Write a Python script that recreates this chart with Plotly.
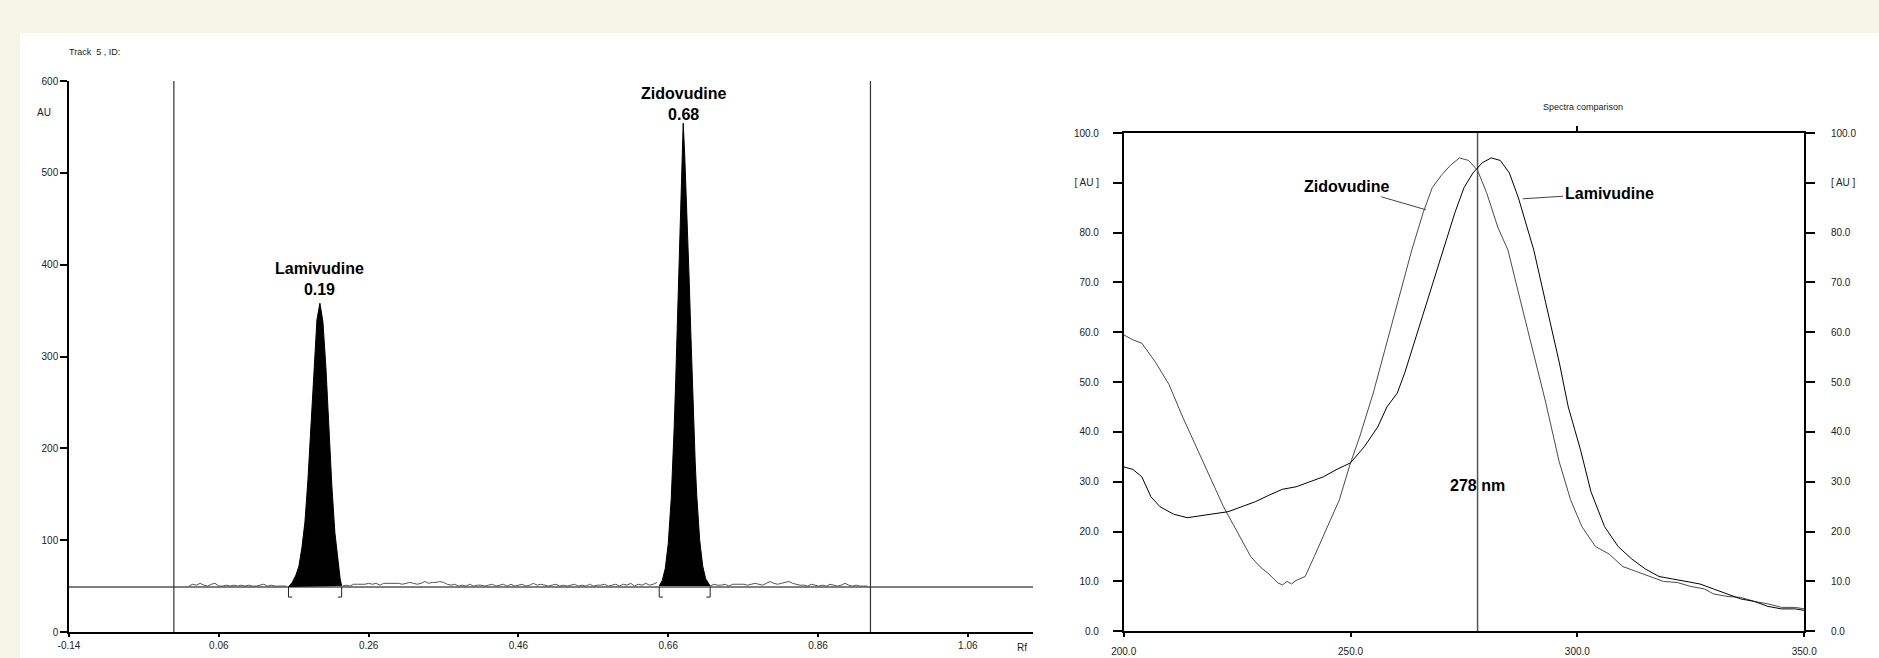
import plotly.graph_objects as go

W, H = 1879, 658

# ---------------- Chromatogram (left) ----------------
rf_ticks = [-0.14, 0.06, 0.26, 0.46, 0.66, 0.86, 1.06]
au_ticks = [0, 100, 200, 300, 400, 500, 600]
baseline_au = 49
front_lines_rf = [0.0, 0.93]

peak_names = ["Lamivudine", "Zidovudine"]
peak_rf_labels = [0.19, 0.68]
peak_apex_rf = [0.195, 0.680]
peak_apex_au = [358, 554]
peak_start = [0.153, 0.648]
peak_end = [0.224, 0.716]

lam_rf = [0.153, 0.158, 0.163, 0.167, 0.171, 0.175, 0.179, 0.183, 0.187, 0.191, 0.195,
          0.199, 0.203, 0.207, 0.211, 0.215, 0.219, 0.222, 0.224]
lam_au = [49, 54, 62, 72, 92, 120, 166, 228, 290, 340, 358,
          338, 288, 222, 158, 108, 75, 58, 50]

zid_rf = [0.648, 0.652, 0.656, 0.660, 0.664, 0.666, 0.668, 0.670, 0.672, 0.674, 0.676, 0.678,
          0.680, 0.682, 0.684, 0.686, 0.688, 0.690, 0.692, 0.694, 0.696, 0.698, 0.702, 0.706,
          0.710, 0.716]
zid_au = [50, 56, 69, 96, 145, 181, 224, 274, 327, 383, 437, 490,
          554, 520, 480, 437, 383, 330, 278, 228, 185, 150, 100, 72,
          58, 50]

# baseline noise segments (start Rf, readings every 0.005 Rf)
noise1_start = 0.020
noise1_au = [50, 52, 51, 53, 51, 50, 52, 53, 50, 50, 51, 50, 51, 50, 51, 50, 51, 50, 50,
             51, 52, 50, 51, 50, 50, 50, 50]
noise2_start = 0.225
noise2_au = [50, 51, 50, 52, 52, 52, 52, 53, 52, 53, 51, 53, 53, 53, 53, 53, 52, 53, 54, 53,
             52, 53, 55, 53, 54, 54, 55, 54, 52, 51, 52, 50, 51, 50, 52, 50, 51, 51, 50, 51,
             52, 50, 51, 52, 50, 52, 50, 51, 52, 50, 51, 53, 51, 52, 51, 50, 51, 52, 50, 51,
             50, 51, 52, 50, 51, 50, 52, 50, 51, 51, 52, 50, 51, 52, 50, 52, 51, 53, 50, 52,
             51, 53, 51, 52, 54]
noise3_start = 0.716
noise3_au = [50, 52, 51, 51, 52, 50, 52, 52, 52, 52, 51, 52, 53, 52, 51, 53, 55, 53, 52, 53,
             54, 55, 53, 52, 51, 51, 50, 52, 51, 50, 51, 50, 52, 51, 50, 51, 53, 51, 50, 51,
             50, 50, 50]

# ---------------- Spectra (right) ----------------
nm_ticks = [200, 250, 300, 350]
spec_ticks = [0, 10, 20, 30, 40, 50, 60, 70, 80, 90, 100]
marker_nm = 278

zid_nm = [200, 202, 204, 207, 210, 213, 216, 219, 222, 225, 228, 230, 232, 234, 235, 236, 237,
          238, 240, 242, 245, 247.5, 250, 252, 255, 258, 261, 263.5, 266, 268, 270, 272, 274,
          276, 278, 280, 282.5, 284.7, 287, 290, 293, 296, 298.5, 301, 304, 307, 310, 313, 316,
          319, 322, 325, 328, 330, 333, 336, 339, 342, 345, 348, 350]
zid_spec = [59.5, 58.5, 57.8, 54, 49.5, 43, 37, 31, 25, 20, 15, 13, 11.5, 9.7, 9.3, 10, 9.5,
            10.2, 11, 15, 21, 26.3, 33.8, 39, 47.8, 57.8, 67.8, 76.5, 84, 89, 91.5, 93.5, 95,
            94.5, 92.5, 88, 81, 76.5, 68, 57, 46, 34, 26.4, 21, 17, 15.5, 13, 12, 11,
            10, 9.8, 9, 8.5, 7.5, 7, 6.8, 6, 5.5, 4.8, 4.8, 4.5]

lam_nm = [200, 202, 204, 206, 208, 211, 214, 217, 220, 223, 226, 229, 232, 235, 238, 241, 244,
          247, 250, 253, 256, 258, 260.3, 262, 264, 265.8, 267.6, 270.5, 273, 275, 277, 279,
          281, 283, 285, 287, 290.4, 293, 296, 298, 300.7, 303, 306, 309, 312, 315, 318, 321,
          324, 327, 330, 333, 336, 339, 342, 345, 348, 350]
lam_spec = [33, 32.5, 31, 27, 25, 23.5, 22.8, 23.2, 23.5, 24, 25, 26, 27.3, 28.5, 29, 30, 31,
            32.5, 33.8, 37, 41, 45, 47.8, 52, 57.8, 63, 67.9, 76.5, 84, 89, 92, 94,
            95, 94.5, 92, 87, 76.5, 66, 54, 45, 36.4, 28, 21, 17, 14.5, 12.5, 11, 10.5,
            10, 9.5, 8.5, 7.5, 6.5, 6, 5, 4.5, 4.5, 4.2]

# label anchors (nm, AU) and the points their leader lines touch
spec_label_names = ["Zidovudine", "Lamivudine"]
spec_label_pos = [(249.2, 89.2), (307.0, 87.9)]
spec_label_target = [(266.6, 84.6), (288.0, 86.8)]
marker_label_au = 29.2

FONT = "Liberation Sans, Arial, sans-serif"
fig = go.Figure()

# --- left chart traces ---
x_lo, x_hi = rf_ticks[0], 1.147
fig.add_trace(go.Scatter(x=[x_lo, x_hi], y=[baseline_au, baseline_au], mode="lines",
                         line=dict(color="black", width=1), hoverinfo="skip", xaxis="x", yaxis="y"))
for f in front_lines_rf:
    fig.add_trace(go.Scatter(x=[f, f], y=[au_ticks[0], au_ticks[-1]], mode="lines",
                             line=dict(color="#333333", width=1.2), hoverinfo="skip",
                             xaxis="x", yaxis="y"))
for st, vals in [(noise1_start, noise1_au), (noise2_start, noise2_au), (noise3_start, noise3_au)]:
    xs = [round(st + 0.005 * i, 4) for i in range(len(vals))]
    fig.add_trace(go.Scatter(x=xs, y=vals, mode="lines", line=dict(color="#555555", width=1),
                             hoverinfo="skip", xaxis="x", yaxis="y"))
for xs, ys in [(lam_rf, lam_au), (zid_rf, zid_au)]:
    fig.add_trace(go.Scatter(x=xs, y=ys, mode="lines", fill="toself", fillcolor="black",
                             line=dict(color="black", width=1), hoverinfo="skip",
                             xaxis="x", yaxis="y"))
# integration brackets
br_depth = 11
br_foot = 0.005
for s, e in zip(peak_start, peak_end):
    fig.add_trace(go.Scatter(x=[s, s, s + br_foot], y=[baseline_au, baseline_au - br_depth, baseline_au - br_depth],
                             mode="lines", line=dict(color="#222222", width=1), hoverinfo="skip",
                             xaxis="x", yaxis="y"))
    fig.add_trace(go.Scatter(x=[e, e, e - br_foot], y=[baseline_au, baseline_au - br_depth, baseline_au - br_depth],
                             mode="lines", line=dict(color="#222222", width=1), hoverinfo="skip",
                             xaxis="x", yaxis="y"))

# --- right chart traces ---
fig.add_trace(go.Scatter(x=zid_nm, y=zid_spec, mode="lines", line=dict(color="#4a4a4a", width=1),
                         hoverinfo="skip", xaxis="x2", yaxis="y2"))
fig.add_trace(go.Scatter(x=lam_nm, y=lam_spec, mode="lines", line=dict(color="black", width=1),
                         hoverinfo="skip", xaxis="x3", yaxis="y2"))
fig.add_trace(go.Scatter(x=[marker_nm, marker_nm], y=[spec_ticks[0], spec_ticks[-1]], mode="lines",
                         line=dict(color="#555555", width=1.5), hoverinfo="skip",
                         xaxis="x2", yaxis="y3"))

label_yshift = {"Lamivudine": 3, "Zidovudine": -2}
annotations = []
for name, rf_lab, ax_, ay_ in zip(peak_names, peak_rf_labels, peak_apex_rf, peak_apex_au):
    annotations.append(dict(x=ax_, y=ay_, xref="x", yref="y", text=f"<b>{name}<br>{rf_lab:.2f}</b>",
                            showarrow=False, yanchor="bottom", yshift=label_yshift[name],
                            font=dict(family=FONT, size=16, color="black")))
for name, (lx, ly), (tx, ty) in zip(spec_label_names, spec_label_pos, spec_label_target):
    annotations.append(dict(x=tx, y=ty, xref="x2", yref="y2", ax=lx, ay=ly, axref="x2", ayref="y2",
                            text=f"<b>{name}</b>", showarrow=True, arrowhead=0, arrowwidth=1,
                            arrowcolor="#444444", standoff=0, startstandoff=0,
                            font=dict(family=FONT, size=16, color="black")))
annotations.append(dict(x=marker_nm, y=marker_label_au, xref="x2", yref="y2",
                        text=f"<b>{marker_nm} nm</b>", showarrow=False,
                        font=dict(family=FONT, size=16, color="black")))
small = dict(family=FONT, size=10, color="#222222")
annotations += [
    dict(x=67 / W, y=1 - 52 / H, xref="paper", yref="paper", text="Track  5 , ID:", showarrow=False,
         xanchor="left", yanchor="middle", font=dict(family=FONT, size=9, color="#222222")),
    dict(x=44 / W, y=1 - 112 / H, xref="paper", yref="paper", text="AU", showarrow=False,
         xanchor="center", yanchor="middle", font=small),
    dict(x=1022 / W, y=1 - 647 / H, xref="paper", yref="paper", text="Rf", showarrow=False,
         xanchor="center", yanchor="middle", font=small),
    dict(x=1583 / W, y=1 - 107 / H, xref="paper", yref="paper", text="Spectra comparison",
         showarrow=False, xanchor="center", yanchor="middle",
         font=dict(family=FONT, size=9, color="#222222")),
]

axis_common = dict(showgrid=False, zeroline=False, showline=True, linecolor="black", linewidth=1.5,
                   ticks="outside", tickcolor="black", tickwidth=1.5, tickfont=small,
                   fixedrange=True, automargin=False)

fig.update_layout(
    template="none",
    width=W, height=H,
    autosize=False,
    margin=dict(l=0, r=0, t=0, b=0, pad=0),
    paper_bgcolor="#F5F5E6",
    plot_bgcolor="rgba(0,0,0,0)",
    showlegend=False,
    font=dict(family=FONT),
    shapes=[dict(type="rect", xref="paper", yref="paper", x0=20 / W, x1=1, y0=0, y1=1 - 33 / H,
                 fillcolor="white", line=dict(width=0), layer="below")],
    annotations=annotations,
    xaxis=dict(axis_common, domain=[69 / W, 1033 / W], range=[x_lo, x_hi], anchor="y",
               tickvals=rf_ticks, ticktext=[f"{v:.2f}" for v in rf_ticks], ticklen=3),
    yaxis=dict(axis_common, domain=[(H - 632) / H, (H - 81) / H], range=[au_ticks[0], au_ticks[-1]],
               anchor="x", tickvals=au_ticks, ticktext=[str(v) for v in au_ticks], ticklen=7),
    xaxis2=dict(axis_common, domain=[1123.7 / W, 1804.2 / W], range=[nm_ticks[0], nm_ticks[-1]],
                anchor="y2", tickvals=nm_ticks, ticktext=[f"{v:.1f}" for v in nm_ticks], ticklen=4,
                ticklabelstandoff=6),
    xaxis3=dict(axis_common, overlaying="x2", side="top", anchor="y2",
                range=[nm_ticks[0], nm_ticks[-1]], tickvals=[300], showticklabels=False, ticklen=5),
    yaxis2=dict(axis_common, domain=[(H - 631.3) / H, (H - 133) / H],
                range=[spec_ticks[0], spec_ticks[-1]], anchor="x2", tickvals=spec_ticks,
                ticktext=["[ AU ]" if v == 90 else f"{v:.1f}" for v in spec_ticks], ticklen=9,
                ticklabelstandoff=12),
    yaxis3=dict(axis_common, overlaying="y2", side="right", anchor="x2",
                range=[spec_ticks[0], spec_ticks[-1]], tickvals=spec_ticks,
                ticktext=["[ AU ]" if v == 90 else f"{v:.1f}" for v in spec_ticks], ticklen=9,
                ticklabelstandoff=14),
)

fig.write_html(
    "out.html",
    config={"displayModeBar": False},
    post_script="document.body.style.margin='0';document.body.style.overflow='hidden';",
)
